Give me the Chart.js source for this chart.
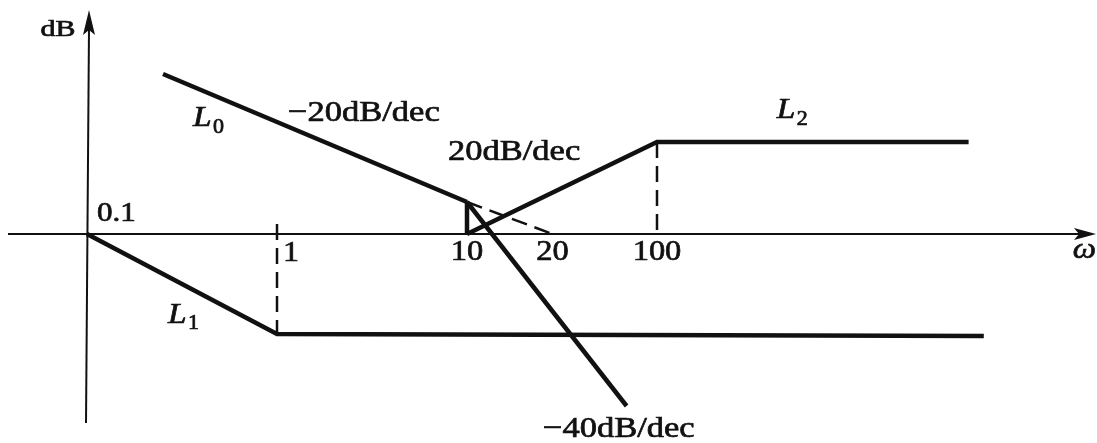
<!DOCTYPE html>
<html>
<head>
<meta charset="utf-8">
<script src="https://cdn.jsdelivr.net/npm/chart.js@4/dist/chart.umd.min.js"></script>
<style>
  html, body { margin: 0; padding: 0; background: #fff; }
  #wrap { width: 1097px; height: 443px; }
</style>
</head>
<body>
<div id="wrap"><canvas id="bode"></canvas></div>
<script>
// x is in decades above w = 0.1 (spacing as drawn in the sketch), y in dB
const tickPos = [0, 1, 2, 2.45, 3];
const tickLabels = ['0.1', '1', '10', '20', '100'];

const L0 = [{x: 0.4, y: 40}, {x: 2.0, y: 8}];
const L0ext = [{x: 2.0, y: 8}, {x: 2.45, y: 0}];
const L0drop = [{x: 2.0, y: 8}, {x: 2.0, y: 0}];
const L0steep = [{x: 2.0, y: 8}, {x: 2.84, y: -43}];
const L1 = [{x: 0, y: 0}, {x: 1, y: -25}, {x: 4.72, y: -25.5}];
const L2 = [{x: 2.0, y: 0}, {x: 3.0, y: 23}, {x: 4.64, y: 23}];
const guide1 = [{x: 1, y: 2.5}, {x: 1, y: -25}];
const guide100 = [{x: 3, y: 23}, {x: 3, y: 0}];

const SERIF = '"Liberation Serif", "DejaVu Serif", serif';
const INK = '#111';

// text placed in data units
const notes = [
  {t: 'dB', x: -0.153, y: 51.1, size: 23, sx: 1.3, align: 'center'},
  {t: '\u221220dB/dec', x: 1.058, y: 30.2, size: 30, sx: 1.15, align: 'left'},
  {t: '20dB/dec', x: 1.9, y: 20.5, size: 30, sx: 1.15, align: 'left'},
  {t: '\u221240dB/dec', x: 2.4, y: -48.8, size: 30, sx: 1.15, align: 'left'}
];
const curveNames = [
  {name: 'L', sub: '0', x: 0.558, y: 28.8},
  {name: 'L', sub: '1', x: 0.426, y: -20.3},
  {name: 'L', sub: '2', x: 3.63, y: 30.8}
];

function line(data, dashed) {
  return {
    data: data,
    showLine: true,
    borderColor: INK,
    borderWidth: dashed ? 2.5 : 4.5,
    borderDash: dashed ? [16, 8] : [],
    pointRadius: 0,
    fill: false,
    tension: 0
  };
}

function putText(ctx, t, px, py, size, sx, align, style) {
  ctx.save();
  ctx.translate(px, py);
  ctx.scale(sx, 1);
  ctx.font = (style || '') + ' ' + size + 'px ' + SERIF;
  ctx.textAlign = align;
  ctx.textBaseline = 'middle';
  ctx.fillStyle = INK;
  ctx.strokeStyle = INK;
  ctx.lineWidth = 0.7;
  ctx.fillText(t, 0, 0);
  ctx.strokeText(t, 0, 0);
  ctx.restore();
}

const sketch = {
  id: 'sketch',
  beforeDatasetsDraw(chart) {
    const ctx = chart.ctx, xs = chart.scales.x, ys = chart.scales.y;
    const x0 = xs.getPixelForValue(0), y0 = ys.getPixelForValue(0);
    ctx.save();
    ctx.strokeStyle = INK;
    ctx.fillStyle = INK;
    ctx.lineWidth = 2;
    // horizontal axis
    ctx.beginPath();
    ctx.moveTo(8, y0);
    ctx.lineTo(1080, y0);
    ctx.stroke();
    ctx.beginPath();
    ctx.moveTo(1096, y0);
    ctx.lineTo(1074, y0 - 6);
    ctx.lineTo(1079, y0);
    ctx.lineTo(1074, y0 + 6);
    ctx.closePath();
    ctx.fill();
    // vertical axis
    ctx.beginPath();
    ctx.moveTo(x0 - 1, 423);
    ctx.lineTo(x0 + 2, 28);
    ctx.stroke();
    ctx.beginPath();
    ctx.moveTo(x0 + 2, 10);
    ctx.lineTo(x0 - 4, 35);
    ctx.lineTo(x0 + 2, 30);
    ctx.lineTo(x0 + 8, 35);
    ctx.closePath();
    ctx.fill();
    ctx.restore();
  },
  afterDatasetsDraw(chart) {
    const ctx = chart.ctx, xs = chart.scales.x, ys = chart.scales.y;
    // tick labels
    tickLabels.forEach((lab, i) => {
      const px = xs.getPixelForValue(tickPos[i]);
      if (i === 0) {
        putText(ctx, lab, px + 10, ys.getPixelForValue(5), 27, 1.15, 'left');
      } else if (i === 1) {
        putText(ctx, lab, px + 6, ys.getPixelForValue(-4.8), 29, 1.1, 'left');
      } else {
        putText(ctx, lab, px, ys.getPixelForValue(-4.6), 29, 1.12, 'center');
      }
    });
    putText(ctx, '\u03c9', xs.getPixelForValue(5.25), ys.getPixelForValue(-4), 30, 1.1, 'center', 'italic');
    notes.forEach(n => {
      putText(ctx, n.t, xs.getPixelForValue(n.x), ys.getPixelForValue(n.y), n.size, n.sx, n.align);
    });
    curveNames.forEach(c => {
      const px = xs.getPixelForValue(c.x), py = ys.getPixelForValue(c.y);
      putText(ctx, c.name, px, py, 29, 1.15, 'left', 'italic');
      putText(ctx, c.sub, px + 20, py + 9, 20, 1.1, 'left');
    });
  }
};

new Chart(document.getElementById('bode'), {
  type: 'scatter',
  data: {
    datasets: [
      line(L0), line(L0drop), line(L0steep), line(L1), line(L2),
      line(L0ext, true), line(guide1, true), line(guide100, true)
    ]
  },
  options: {
    responsive: true,
    maintainAspectRatio: false,
    animation: false,
    layout: {padding: 0},
    plugins: {legend: {display: false}, tooltip: {enabled: false}},
    scales: {
      x: {type: 'linear', min: -87 / 190, max: 1010 / 190, display: false},
      y: {type: 'linear', min: -52.25, max: 58.5, display: false}
    }
  },
  plugins: [sketch]
});
</script>
</body>
</html>
